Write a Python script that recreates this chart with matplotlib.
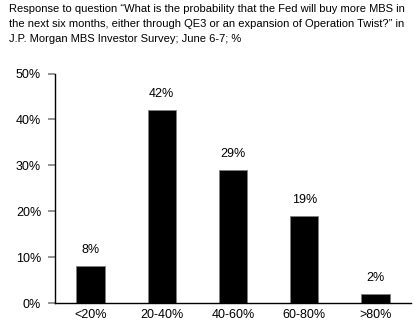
import numpy as np
import matplotlib.pyplot as plt

plt.rcParams.update({
    'font.family': ['Liberation Sans', 'DejaVu Sans'],
    'font.size': 9,
})

categories = ['<20%', '20-40%', '40-60%', '60-80%', '>80%']
values = [8, 42, 29, 19, 2]
yticks = [0, 10, 20, 30, 40, 50]

title_lines = [
    'Response to question \u201cWhat is the probability that the Fed will buy more MBS in',
    'the next six months, either through QE3 or an expansion of Operation Twist?\u201d in',
    'J.P. Morgan MBS Investor Survey; June 6-7; %',
]

fig = plt.figure(figsize=(4.15, 3.33), dpi=100)
ax = fig.add_axes([55 / 415, 1 - 303 / 333, (411 - 55) / 415, (303 - 73.5) / 333])

x = np.arange(len(categories))
ax.bar(x, values, width=0.4, color='black', edgecolor='#808080', linewidth=0.6)
for xi, v in zip(x, values):
    ax.text(xi, v + 2.2, f'{v}%', ha='center', va='bottom', fontsize=9)

ax.set_xlim(-0.5, len(categories) - 0.5)
ax.set_ylim(0, 50)
ax.set_xticks(x)
ax.set_xticklabels(categories)
ax.set_yticks(yticks)
ax.set_yticklabels([f'{t}%' for t in yticks])
ax.tick_params(axis='x', length=0, pad=4)
ax.tick_params(axis='y', length=5, width=1.2, color='#808080', pad=5)
for s in ['top', 'right']:
    ax.spines[s].set_visible(False)
for s in ['left', 'bottom']:
    ax.spines[s].set_linewidth(1.0)

# shrink the header so the first line fits the reference width
title = fig.text(9 / 415, 1 - 2 / 333, title_lines[0], ha='left', va='top', fontsize=9)
fig.canvas.draw()
w = title.get_window_extent().width
fs = 9 * 398 / w
title.remove()
fig.text(9 / 415, 1 - 4.5 / 333, '\n'.join(title_lines),
         ha='left', va='top', fontsize=fs, linespacing=1.6)

fig.savefig('out.png', dpi=100)
